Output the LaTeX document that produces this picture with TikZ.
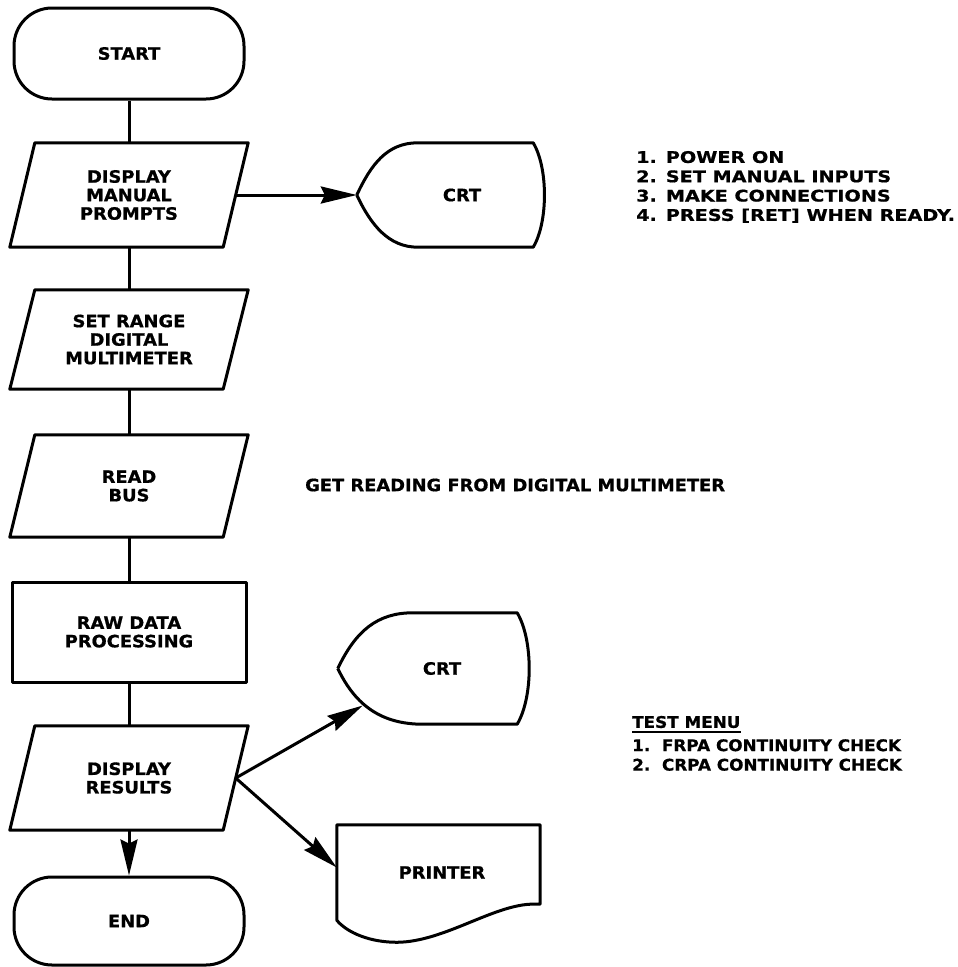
\documentclass[tikz,border=0pt]{standalone}
\usepackage{fontspec}
\newfontfamily\diagfont[FakeStretch=1.05,FakeBold=0.8]{DejaVu Sans}
\newfontfamily\widefont[FakeStretch=1.2,FakeBold=0.8]{DejaVu Sans}
\usetikzlibrary{arrows.meta,calc}
\newcommand\drawpara[1]{\draw[flowline] (#1.south west) -- ($(#1.south east)+(-25,0)$) -- (#1.north east) -- ($(#1.north west)+(25,0)$) -- cycle;}
\begin{document}
\begin{tikzpicture}[x=1pt,y=-1pt,
  lbl/.style={font=\diagfont\bfseries\fontsize{17}{18.5}\selectfont, align=center, inner sep=0pt},
  flowline/.style={line width=3pt, line join=round},
  arr/.style={flowline, -{Stealth[length=36pt,width=17pt,inset=4pt]}},
  term/.style={draw, flowline, rounded corners=38pt, minimum width=230pt, minimum height=91pt, lbl},
  procbox/.style={draw, flowline, minimum width=234pt, minimum height=100pt, lbl},
  iobox/.style={lbl, minimum width=238pt},
  ghost/.style={lbl}
]
\useasboundingbox (0,0) rectangle (958,967);

% main column
\node[term] (start) at (129,53.5) {START};
\node[iobox, minimum height=104pt] (dmp) at (129,195) {DISPLAY\\MANUAL\\PROMPTS};
\node[iobox, minimum height=99pt] (srd) at (129,339.5) {SET RANGE\\DIGITAL\\MULTIMETER};
\node[iobox, minimum height=102pt] (rbus) at (129,486) {READ\\BUS};
\node[procbox] (raw) at (129,632) {RAW DATA\\PROCESSING};
\node[iobox, minimum height=104pt] (dres) at (129,778) {DISPLAY\\RESULTS};
\node[term, minimum height=88pt] (end) at (129,921) {END};

\drawpara{dmp}
\drawpara{srd}
\drawpara{rbus}
\drawpara{dres}

% CRT 1
\node[ghost, minimum width=188pt, minimum height=104pt] (crt1) at (451,195) {\hspace*{22pt}CRT};
\draw[flowline] (crt1.west) .. controls ($(crt1.west)+(14,-30)$) and ($(crt1.north west)+(30,0)$) .. ($(crt1.north west)+(61,0)$)
  -- ($(crt1.north east)+(-12,0)$) .. controls ($(crt1.north east)+(3,25)$) and ($(crt1.south east)+(3,-25)$) .. ($(crt1.south east)+(-12,0)$)
  -- ($(crt1.south west)+(61,0)$) .. controls ($(crt1.south west)+(32,0)$) and ($(crt1.west)+(14,30)$) .. (crt1.west);

% CRT 2
\node[ghost, minimum width=192pt, minimum height=111pt] (crt2) at (434,668.5) {\hspace*{16pt}CRT};
\draw[flowline] (crt2.west) .. controls ($(crt2.west)+(18,-38)$) and ($(crt2.north west)+(40,0)$) .. ($(crt2.north west)+(75,0)$)
  -- ($(crt2.north east)+(-13,0)$) .. controls ($(crt2.north east)+(3,27)$) and ($(crt2.south east)+(3,-27)$) .. ($(crt2.south east)+(-13,0)$)
  -- ($(crt2.south west)+(85,0)$) .. controls ($(crt2.south west)+(45,0)$) and ($(crt2.west)+(18,38)$) .. (crt2.west);

% PRINTER
\node[ghost, minimum width=203pt, minimum height=95pt] (prn) at (438.5,872.5) {\hspace*{7pt}PRINTER};
\draw[flowline] (prn.north west) -- (prn.north east) -- ($(prn.south east)+(0,-16)$) -- ($(prn.south east)+(-10,-16)$)
  .. controls ($(prn.south east)+(-50,-14)$) and ($(prn.south west)+(103,24)$) .. ($(prn.south west)+(56,22)$)
  .. controls ($(prn.south west)+(28,21)$) and ($(prn.south west)+(8,10)$) .. (prn.south west) -- cycle;

% connector points
\coordinate (dmpR) at ($(dmp.east)+(-12.5,0)$);
\coordinate (dresR) at ($(dres.east)+(-12.5,0)$);
\coordinate (crt2in) at ($(crt2.west)+(25,37)$);
\coordinate (prnin) at ($(prn.west)+(0,-5)$);

% connectors
\draw[flowline] (start.south) -- (dmp.north);
\draw[flowline] (dmp.south) -- (srd.north);
\draw[flowline] (srd.south) -- (rbus.north);
\draw[flowline] (rbus.south) -- (raw.north);
\draw[flowline] (raw.south) -- (dres.north);
\draw[arr] (dres.south) -- (end.north);
\draw[arr] (dmpR) -- (crt1.west);
\draw[arr] (dresR) -- (crt2in);
\draw[arr] (dresR) -- (prnin);

% annotations
\node[lbl, anchor=west, align=left, font=\widefont\bfseries\fontsize{16}{19.3}\selectfont] (notes) at (636,188)
  {\begin{tabular}{@{}l@{\hspace{9pt}}l@{}}1.&POWER ON\\2.&SET MANUAL INPUTS\\3.&MAKE CONNECTIONS\\4.&PRESS [RET] WHEN READY.\end{tabular}};
\node[lbl, anchor=west] (getr) at (305,485) {GET READING FROM DIGITAL MULTIMETER};
\node[lbl, anchor=west, font=\diagfont\bfseries\fontsize{16}{19}\selectfont] (menuhead) at (632,722) {TEST MENU};
\draw[line width=2.2pt] ($(menuhead.south west)+(0,4)$) -- ($(menuhead.south east)+(0,4)$);
\node[lbl, anchor=west, align=left, font=\diagfont\bfseries\fontsize{16}{19.5}\selectfont] (menu) at (632,755)
  {1.\ \ FRPA CONTINUITY CHECK\\2.\ \ CRPA CONTINUITY CHECK};
\end{tikzpicture}
\end{document}
